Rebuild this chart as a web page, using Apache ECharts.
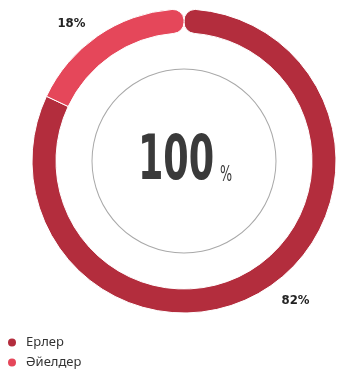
<!DOCTYPE html>
<html><head><meta charset="utf-8">
<script src="https://cdn.jsdelivr.net/npm/echarts@6/dist/echarts.min.js"></script>
<style>html,body{margin:0;padding:0;background:#fff}#c{width:349px;height:380px}</style>
</head><body><div id="c"></div>
<script>
var categories = ['Ерлер', 'Әйелдер'];
var values = [82, 18];
var labels = ['82%', '18%'];
var colors = ['#B32D3D', '#E5475A'];
var centerValue = '100';

var chart = echarts.init(document.getElementById('c'), null, {renderer: 'canvas'});
var CR = 11;
var offsets = [[9, 8], [-10, -6]];
var data = categories.map(function (c, i) {
  return {
    name: c, value: values[i],
    itemStyle: {color: colors[i], borderRadius: i === 0 ? [CR, 0, CR, 0] : [0, CR, 0, CR]},
    label: {formatter: labels[i], offset: offsets[i]}
  };
});
chart.setOption({
  animation: false,
  legend: {
    orient: 'vertical', left: 1, bottom: 6, itemGap: 7,
    icon: 'circle', itemWidth: 10, itemHeight: 10,
    textStyle: {fontFamily: 'Noto Sans', fontSize: 13, color: '#333', padding: [0, 0, 0, 4]},
    data: categories
  },
  graphic: [{
    type: 'text', x: 185, y: 194, scaleX: 0.58, scaleY: 1,
    style: {
      text: '{a|' + centerValue + '}{b|%}',
      align: 'center', verticalAlign: 'bottom',
      rich: {
        a: {fontFamily: 'DejaVu Sans', fontWeight: 'bold', fontSize: 63, fill: '#3a3a3a', lineHeight: 63, verticalAlign: 'bottom'},
        b: {fontFamily: 'DejaVu Sans', fontSize: 22, fill: '#3a3a3a', padding: [0, 0, 8, 10], verticalAlign: 'bottom'}
      }
    }
  }],
  series: [{
    type: 'pie', center: [184, 161], radius: [91.5, 92.5], silent: true,
    label: {show: false}, labelLine: {show: false},
    itemStyle: {color: '#a9a9a9'},
    data: [{value: 1, name: 'c'}]
  }, {
    type: 'pie', center: [184, 161], radius: [128, 152],
    startAngle: 90, clockwise: true, silent: true,
    itemStyle: {borderColor: '#fff', borderWidth: 1},
    label: {
      show: true, position: 'outside',
      fontFamily: 'DejaVu Sans Condensed, Roboto, sans-serif', fontWeight: 'bold', fontSize: 13, color: '#222'
    },
    labelLine: {show: false, length: 4, length2: 0},
    data: data
  }]
});
</script></body></html>
